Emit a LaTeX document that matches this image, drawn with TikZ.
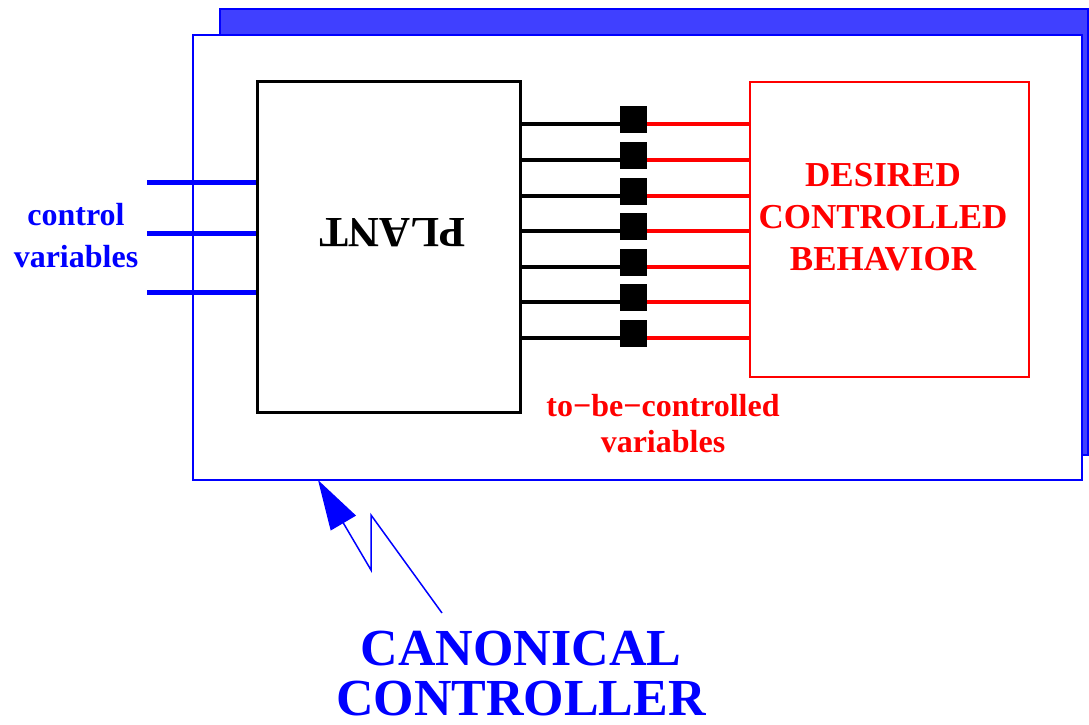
\documentclass[tikz,border=0pt]{standalone}
\usepackage{fontspec}
\setmainfont{Liberation Serif}
\usetikzlibrary{arrows.meta,positioning}
\definecolor{shadeblue}{RGB}{64,64,255}

\begin{document}
\begin{tikzpicture}[x=1pt,y=-1pt,>=Latex,
 panel/.style={draw=blue,line width=1.5pt,inner sep=0pt},
 wire/.style={line width=4.5pt},
 pin/.style={fill=black,minimum size=27pt,inner sep=0pt},
 tag/.style={align=center,inner sep=0pt,font=\bfseries}]
\useasboundingbox (0,0) rectangle (1089,725);
\node[panel,line width=2pt,fill=shadeblue,minimum width=868pt,minimum height=446pt] (back) at (654,232) {};
\node[panel,fill=white,minimum width=889pt,minimum height=445pt] (front) at (637.5,257.5) {};
\node[draw,line width=3pt,inner sep=0pt,minimum width=263pt,minimum height=331pt] (plant) at (388.5,246.5) {};
\node[draw=red,line width=1.5pt,inner sep=0pt,minimum width=279pt,minimum height=295pt] (desired) at (889.5,229.5) {};
\node[rotate=180,inner sep=0pt,font=\fontsize{43}{43}\selectfont\bfseries] (plantlbl) at (392.5,232.5) {PLANT};
\foreach \i/\y in {1/124,2/160,3/196,4/231,5/267,6/302,7/338}{
 \coordinate (l\i) at (633.5,\y);
 \node[pin] (s\i) at ([yshift=4.6pt]l\i) {};
 \draw[wire] (l\i -| plant.east) -- (l\i -| s\i.west);
 \draw[wire,red] (l\i -| s\i.east) -- (l\i -| desired.west);
}
\foreach \i/\y in {1/182,2/233,3/292}{
 \coordinate (c\i) at (147,\y);
 \draw[wire,line width=5pt,blue] (c\i) -- (c\i -| plant.west);
}
\node[tag,blue,font=\fontsize{32}{42}\selectfont\bfseries] (ctrllbl) at (76,236) {control\\variables};
\node[tag,red,font=\fontsize{35}{41.7}\selectfont\bfseries] (desiredlbl) at (883,217) {DESIRED\\CONTROLLED\\BEHAVIOR};
\node[tag,red,font=\fontsize{32}{36}\selectfont\bfseries] (tbclbl) at (663,424) {to−be−controlled\\variables};
\node[tag,blue,font=\fontsize{52}{50}\selectfont\bfseries] (canon) at (521,674) {CANONICAL\\CONTROLLER};
% lightning from the label up to the controller box
\coordinate (bolt) at (442,613);
\coordinate (tip) at (318,480);
\draw[blue,line width=1.5pt,-{Triangle[length=50pt,width=29pt]}] (bolt) -- (371,515) -- (371,570) -- (tip);
\end{tikzpicture}
\end{document}
